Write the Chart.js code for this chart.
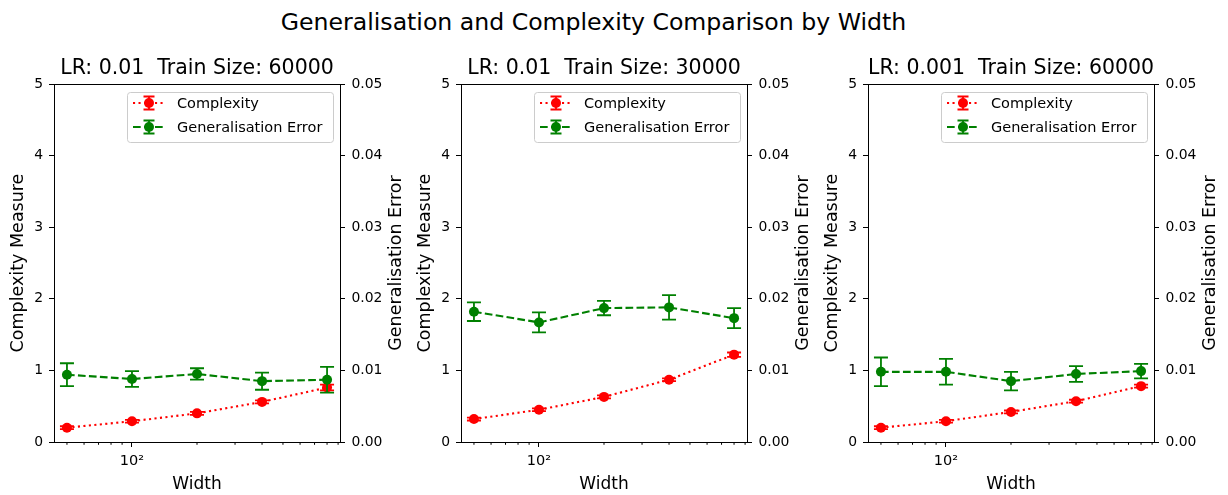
<!DOCTYPE html>
<html>
<head>
<meta charset="utf-8">
<script src="https://cdn.jsdelivr.net/npm/chart.js@4"></script>
<style>
    body { margin: 0; background: #fff; }
    #fig { position: relative; width: 1228px; height: 495px; overflow: hidden; font-family: 'DejaVu Sans', sans-serif; }
    #suptitle { position: absolute; left: 0; top: 8px; width: 1187px; text-align: center; font-size: 23.6px; line-height: 28px; color: #000; }
    .panel { position: absolute; top: 40px; width: 407px; height: 455px; }
</style>
</head>
<body>
<div id="fig">
    <div id="suptitle">Generalisation and Complexity Comparison by Width</div>
    <canvas id="panel0" class="panel" width="407" height="455" style="left:0px"></canvas>
    <canvas id="panel1" class="panel" width="407" height="455" style="left:407px"></canvas>
    <canvas id="panel2" class="panel" width="407" height="455" style="left:814px"></canvas>
</div>
<script>
// values
const widths = [50, 100, 200, 400, 800];
const xMajorTicks = [100];
const xMinorTicks = [50, 60, 70, 80, 90, 200, 300, 400, 500, 600, 700, 800, 900];
const complexityTicks = [0, 1, 2, 3, 4, 5];
const errorTicks = [0, 0.01, 0.02, 0.03, 0.04, 0.05];
const panelTitles = ['LR: 0.01  Train Size: 60000', 'LR: 0.01  Train Size: 30000', 'LR: 0.001  Train Size: 60000'];

const complexityLr01N60k = [0.20, 0.29, 0.40, 0.56, 0.76];
const complexityErrLr01N60k = [0.02, 0.02, 0.02, 0.02, 0.04];
const genErrorLr01N60k = [0.0094, 0.0088, 0.0095, 0.0085, 0.0087];
const genErrorErrLr01N60k = [0.0016, 0.0011, 0.0008, 0.0012, 0.0018];

const complexityLr01N30k = [0.32, 0.45, 0.63, 0.87, 1.22];
const complexityErrLr01N30k = [0.02, 0.02, 0.02, 0.02, 0.03];
const genErrorLr01N30k = [0.0182, 0.0167, 0.0187, 0.0188, 0.0173];
const genErrorErrLr01N30k = [0.0013, 0.0014, 0.0010, 0.0017, 0.0014];

const complexityLr001N60k = [0.20, 0.29, 0.42, 0.57, 0.78];
const complexityErrLr001N60k = [0.02, 0.02, 0.02, 0.02, 0.02];
const genErrorLr001N60k = [0.0098, 0.0098, 0.0085, 0.0095, 0.0099];
const genErrorErrLr001N60k = [0.0020, 0.0018, 0.0013, 0.0011, 0.0010];

Chart.defaults.font.family = "'DejaVu Sans', sans-serif";
Chart.defaults.color = '#000';

const RED = '#ff0000';
const GREEN = '#008000';

// error bars, frame, minor ticks, right label and legend
const panelDecor = {
    id: 'panelDecor',
    beforeDatasetDraw(chart, args) {
        const ds = chart.data.datasets[args.index];
        const xs = chart.scales.x, ys = chart.scales[ds.yAxisID];
        const ctx = chart.ctx;
        ctx.save();
        ctx.strokeStyle = ds.borderColor;
        ctx.lineWidth = 1.8;
        ds.data.forEach((p, i) => {
            const px = xs.getPixelForValue(p.x);
            const top = ys.getPixelForValue(p.y + ds.errors[i]);
            const bot = ys.getPixelForValue(p.y - ds.errors[i]);
            ctx.beginPath();
            ctx.moveTo(px, top); ctx.lineTo(px, bot);
            ctx.moveTo(px - 7, top); ctx.lineTo(px + 7, top);
            ctx.moveTo(px - 7, bot); ctx.lineTo(px + 7, bot);
            ctx.stroke();
        });
        ctx.restore();
    },
    afterDraw(chart) {
        const ctx = chart.ctx;
        const a = chart.chartArea;
        const xs = chart.scales.x;
        ctx.save();
        // top spine
        ctx.strokeStyle = '#000';
        ctx.lineWidth = 1;
        ctx.beginPath();
        ctx.moveTo(a.left, a.top + 0.5);
        ctx.lineTo(a.right, a.top + 0.5);
        ctx.stroke();
        // minor x ticks
        xMinorTicks.forEach(v => {
            const px = xs.getPixelForValue(v);
            ctx.beginPath();
            ctx.moveTo(px, a.bottom);
            ctx.lineTo(px, a.bottom + 2.8);
            ctx.stroke();
        });
        // right axis label, reading bottom to top like the left one
        ctx.fillStyle = '#000';
        ctx.font = "17.5px 'DejaVu Sans'";
        ctx.textAlign = 'center';
        ctx.textBaseline = 'middle';
        ctx.translate(a.right + 56, (a.top + a.bottom) / 2);
        ctx.rotate(-Math.PI / 2);
        ctx.fillText('Generalisation Error', 0, 0);
        ctx.restore();

        // legend
        const bw = 206, bh = 50;
        const bx = a.right - 7 - bw, by = a.top + 8;
        ctx.save();
        ctx.fillStyle = 'rgba(255,255,255,0.8)';
        ctx.strokeStyle = '#cccccc';
        ctx.lineWidth = 1;
        ctx.beginPath();
        ctx.roundRect(bx + 0.5, by + 0.5, bw, bh, 3);
        ctx.fill();
        ctx.stroke();
        const items = [
            { label: 'Complexity', color: RED, dash: [2.1, 3.4] },
            { label: 'Generalisation Error', color: GREEN, dash: [7.7, 3.3] }
        ];
        items.forEach((it, k) => {
            const y = by + 11 + k * 24;
            const mx = bx + 22;
            ctx.strokeStyle = it.color;
            ctx.lineWidth = 2.1;
            ctx.setLineDash(it.dash);
            ctx.beginPath();
            ctx.moveTo(bx + 6, y);
            ctx.lineTo(bx + 37, y);
            ctx.stroke();
            ctx.setLineDash([]);
            ctx.lineWidth = 1.8;
            ctx.beginPath();
            ctx.moveTo(mx, y - 6.5); ctx.lineTo(mx, y + 6.5);
            ctx.moveTo(mx - 5.5, y - 6.5); ctx.lineTo(mx + 5.5, y - 6.5);
            ctx.moveTo(mx - 5.5, y + 6.5); ctx.lineTo(mx + 5.5, y + 6.5);
            ctx.stroke();
            ctx.fillStyle = it.color;
            ctx.beginPath();
            ctx.arc(mx, y, 5, 0, Math.PI * 2);
            ctx.fill();
            ctx.fillStyle = '#000';
            ctx.font = "14.5px 'DejaVu Sans'";
            ctx.textAlign = 'left';
            ctx.textBaseline = 'middle';
            ctx.fillText(it.label, bx + 50, y + 1);
        });
        ctx.restore();
    }
};

function makePanel(id, title, comp, compErr, gen, genErr) {
    const ctx = document.getElementById(id).getContext('2d');
    return new Chart(ctx, {
        type: 'line',
        data: {
            datasets: [
                {
                    label: 'Generalisation Error',
                    data: widths.map((w, i) => ({ x: w, y: gen[i] })),
                    errors: genErr,
                    yAxisID: 'y1',
                    borderColor: GREEN,
                    backgroundColor: GREEN,
                    borderWidth: 2.1,
                    borderDash: [7.7, 3.3],
                    pointRadius: 5,
                    pointHoverRadius: 5,
                    pointBorderWidth: 0,
                    pointBackgroundColor: GREEN
                },
                {
                    label: 'Complexity',
                    data: widths.map((w, i) => ({ x: w, y: comp[i] })),
                    errors: compErr,
                    yAxisID: 'y',
                    borderColor: RED,
                    backgroundColor: RED,
                    borderWidth: 2.1,
                    borderDash: [2.1, 3.4],
                    pointRadius: 5,
                    pointHoverRadius: 5,
                    pointBorderWidth: 0,
                    pointBackgroundColor: RED
                }
            ]
        },
        options: {
            responsive: false,
            animation: false,
            layout: { padding: 0 },
            plugins: {
                legend: { display: false },
                tooltip: { enabled: false },
                title: {
                    display: true,
                    fullSize: false,
                    text: title,
                    color: '#000',
                    font: { size: 20.5, weight: 'normal' },
                    padding: { top: 16.5, bottom: 2.9 }
                }
            },
            scales: {
                x: {
                    type: 'logarithmic',
                    min: Math.pow(10, 1.639),
                    max: Math.pow(10, 2.963),
                    afterBuildTicks: axis => {
                        axis.ticks = [...xMinorTicks, ...xMajorTicks].sort((p, q) => p - q).map(v => ({ value: v }));
                    },
                    afterFit: s => { s.height = 53; },
                    ticks: {
                        autoSkip: false,
                        maxRotation: 0,
                        padding: 6,
                        color: '#000',
                        font: { size: 14.5 },
                        callback: v => (xMajorTicks.includes(v) ? '10²' : '')
                    },
                    grid: {
                        drawOnChartArea: false,
                        tickLength: 5,
                        tickColor: c => (c.tick && xMajorTicks.includes(c.tick.value) ? '#000' : 'rgba(0,0,0,0)')
                    },
                    border: { color: '#000', width: 1 },
                    title: { display: true, text: 'Width', color: '#000', font: { size: 17 }, padding: { top: 0, bottom: 0 } }
                },
                y: {
                    position: 'left',
                    min: 0,
                    max: 5,
                    afterBuildTicks: axis => { axis.ticks = complexityTicks.map(v => ({ value: v })); },
                    afterFit: s => { s.width = 54; },
                    ticks: { padding: 6, color: '#000', font: { size: 13.9 }, callback: v => String(v) },
                    grid: { drawOnChartArea: false, tickLength: 5, tickColor: '#000' },
                    border: { color: '#000', width: 1 },
                    title: { display: true, text: 'Complexity Measure', color: '#000', font: { size: 17.5 }, padding: { top: 7.5, bottom: 0 } }
                },
                y1: {
                    position: 'right',
                    min: 0,
                    max: 0.05,
                    afterBuildTicks: axis => { axis.ticks = errorTicks.map(v => ({ value: v })); },
                    afterFit: s => { s.width = 67; },
                    ticks: { padding: 6.5, color: '#000', font: { size: 13.9 }, callback: v => v.toFixed(2) },
                    grid: { drawOnChartArea: false, tickLength: 5, tickColor: '#000' },
                    border: { color: '#000', width: 1 },
                    title: { display: false }
                }
            }
        },
        plugins: [panelDecor]
    });
}

makePanel('panel0', panelTitles[0], complexityLr01N60k, complexityErrLr01N60k, genErrorLr01N60k, genErrorErrLr01N60k);
makePanel('panel1', panelTitles[1], complexityLr01N30k, complexityErrLr01N30k, genErrorLr01N30k, genErrorErrLr01N30k);
makePanel('panel2', panelTitles[2], complexityLr001N60k, complexityErrLr001N60k, genErrorLr001N60k, genErrorErrLr001N60k);
</script>
</body>
</html>
